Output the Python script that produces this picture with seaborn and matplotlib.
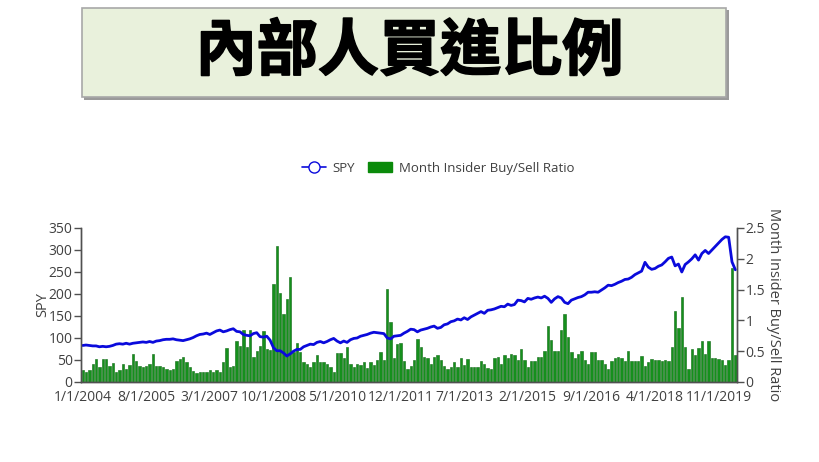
import numpy as np
import pandas as pd
import matplotlib
matplotlib.use('Agg')
import matplotlib.pyplot as plt
import matplotlib.patheffects as pe
from matplotlib.lines import Line2D
from matplotlib.patches import Patch, Rectangle
import seaborn as sns

# --- data ---
title_text = '內部人買進比例'
months = pd.date_range('2004-01-01', periods=196, freq='MS')
month_labels = [f'{d.month}/1/{d.year}' for d in months]
label_step = 19

spy = [
    83, 84, 83, 82, 82, 80, 81, 80, 81, 83, 86, 87,            # 2004
    86, 88, 86, 88, 89, 90, 91, 90, 92, 90, 93, 94,            # 2005
    96, 97, 97, 98, 96, 95, 94, 96, 98, 101, 105, 108,         # 2006
    109, 111, 108, 112, 116, 118, 114, 116, 119, 121, 115, 114,  # 2007
    108, 106, 105, 110, 112, 103, 102, 104, 95, 78, 71, 71,    # 2008
    66, 59, 64, 70, 74, 74, 80, 83, 86, 85, 90, 92,            # 2009
    89, 92, 96, 99, 93, 89, 93, 90, 96, 99, 100, 104,          # 2010
    106, 108, 111, 113, 112, 111, 110, 100, 98, 104, 105, 106,  # 2011
    111, 115, 120, 119, 114, 118, 120, 122, 125, 127, 122, 124,  # 2012
    130, 132, 137, 139, 143, 141, 146, 142, 148, 152, 156, 160,  # 2013
    156, 163, 164, 166, 169, 172, 171, 177, 174, 176, 186, 185,  # 2014
    182, 190, 188, 191, 193, 191, 195, 190, 181, 189, 194, 191,  # 2015
    181, 178, 186, 189, 192, 194, 198, 204, 204, 205, 204, 209,  # 2016
    214, 220, 219, 222, 226, 229, 233, 234, 238, 244, 248, 252,  # 2017
    272, 261, 256, 258, 263, 266, 273, 281, 284, 264, 268, 250,  # 2018
    267, 273, 280, 289, 277, 292, 299, 292, 300, 308, 316, 324,  # 2019
    330, 329, 273, 255,                                        # 2020
]

ratio = [
    0.19, 0.16, 0.20, 0.29, 0.38, 0.25, 0.38, 0.37, 0.26, 0.31, 0.16, 0.20,
    0.30, 0.21, 0.27, 0.46, 0.34, 0.26, 0.24, 0.26, 0.29, 0.46, 0.26, 0.26,
    0.24, 0.21, 0.20, 0.21, 0.34, 0.37, 0.40, 0.32, 0.25, 0.18, 0.14, 0.16,
    0.16, 0.16,
    0.19, 0.16, 0.19, 0.16, 0.33, 0.55, 0.25, 0.26, 0.66, 0.59, 0.84, 0.57,
    0.85, 0.41, 0.50, 0.59, 0.83, 0.53, 0.52, 1.59, 2.20, 1.44, 1.10, 1.34,
    1.71, 0.48, 0.63, 0.49, 0.32, 0.29, 0.24, 0.33, 0.43, 0.33, 0.32, 0.29,
    0.24, 0.16, 0.47, 0.47, 0.39,
    0.57, 0.29, 0.24, 0.30, 0.28, 0.33, 0.22, 0.33, 0.28, 0.36, 0.49, 0.36,
    1.51, 0.97, 0.39, 0.61, 0.63, 0.34, 0.21, 0.26, 0.36, 0.70, 0.57, 0.40,
    0.39, 0.30, 0.41, 0.44, 0.36, 0.26, 0.21, 0.25, 0.33, 0.25, 0.39, 0.28,
    0.37, 0.25, 0.25,
    0.25, 0.34, 0.29, 0.22, 0.21, 0.39, 0.41, 0.29, 0.44, 0.39, 0.45, 0.44,
    0.36, 0.53, 0.36, 0.25, 0.34, 0.34, 0.40, 0.41, 0.51, 0.91, 0.68, 0.51,
    0.51, 0.84, 1.11, 0.73, 0.49, 0.39, 0.46, 0.50, 0.36, 0.30, 0.49, 0.49,
    0.36, 0.36,
    0.30, 0.21, 0.34, 0.39, 0.41, 0.39, 0.34, 0.51, 0.34, 0.34, 0.34, 0.42,
    0.26, 0.32, 0.37, 0.36, 0.36, 0.34, 0.36, 0.34, 0.57, 1.15, 0.87, 1.38,
    0.56, 0.21, 0.53, 0.43, 0.55, 0.66, 0.45, 0.67, 0.39, 0.39, 0.37, 0.36,
    0.28, 0.36, 1.85, 0.43,
]

spy_ticks = [0, 50, 100, 150, 200, 250, 300, 350]
ratio_ticks = [0, 0.5, 1, 1.5, 2, 2.5]
ratio_tick_labels = ['0', '0.5', '1', '1.5', '2', '2.5']

df = pd.DataFrame({'month': month_labels, 'spy': spy, 'ratio': ratio})

sns.set_style('white')
plt.rcParams['font.family'] = ['Open Sans', 'DejaVu Sans']

bar_green = '#15901c'
line_blue = '#0a0adc'
text_grey = '#404040'

fig = plt.figure(figsize=(8.19, 4.62), dpi=100)

# title banner
fig.patches.append(Rectangle((0.103, 0.783), 0.787, 0.196, transform=fig.transFigure,
                             facecolor='#9a9a9a', edgecolor='none', zorder=0))
fig.patches.append(Rectangle((0.100, 0.790), 0.787, 0.193, transform=fig.transFigure,
                             facecolor='#e9f1dc', edgecolor='#a8a8a8', lw=1.2, zorder=1))
fig.text(0.5, 0.887, title_text, ha='center', va='center', fontsize=44,
         fontweight='bold', color='black', family=['Noto Sans CJK TC', 'DejaVu Sans'],
         path_effects=[pe.withStroke(linewidth=1.2, foreground='black')])

ax_bar = fig.add_axes([0.0989, 0.1732, 0.8010, 0.3333])
sns.barplot(data=df, x='month', y='ratio', ax=ax_bar, color=bar_green,
            saturation=1, width=0.7, edgecolor='#0d6812', linewidth=0.4)
ax_bar.set_ylim(0, 2.5)
ax_bar.set_xlim(-0.5, len(df) - 0.5)

ax_line = ax_bar.twinx()
sns.lineplot(x=df.index, y=df['spy'], ax=ax_line, color=line_blue, lw=2, legend=False)
ax_line.set_ylim(0, 350)
ax_line.set_xlim(-0.5, len(df) - 0.5)

# bars' axis on the right, SPY on the left
ax_bar.yaxis.tick_right()
ax_bar.yaxis.set_label_position('right')
ax_line.yaxis.tick_left()
ax_line.yaxis.set_label_position('left')

ax_bar.set_yticks(ratio_ticks)
ax_bar.set_yticklabels(ratio_tick_labels)
ax_line.set_yticks(spy_ticks)

label_pos = list(range(0, len(df), label_step))
ax_bar.set_xticks(label_pos)
ax_bar.set_xticklabels([month_labels[i] for i in label_pos])
ax_bar.set_xticks([p + label_step / 2 for p in label_pos[:-1]], minor=True)
ax_bar.tick_params(axis='x', which='major', length=0, pad=6, labelsize=10, labelcolor=text_grey)
ax_bar.tick_params(axis='x', which='minor', length=5, width=1, color='#505050', direction='out')
ax_bar.tick_params(axis='y', length=5, width=1, color='#505050', direction='out',
                   labelsize=10, labelcolor=text_grey, pad=1, right=True, left=False)
ax_line.tick_params(axis='y', length=5, width=1, color='#505050', direction='out',
                    labelsize=10, labelcolor=text_grey, pad=1, left=True, right=False)

ax_bar.set_xlabel('')
ax_bar.set_ylabel('Month Insider Buy/Sell Ratio', rotation=270, fontsize=10.5,
                  color=text_grey, va='center')
ax_bar.yaxis.set_label_coords(1.056, 0.5)
ax_line.set_ylabel('SPY', fontsize=10.5, color=text_grey)
ax_line.yaxis.set_label_coords(-0.047, 0.5)

for a in (ax_bar, ax_line):
    a.spines['top'].set_visible(False)
    for s in ('left', 'right', 'bottom'):
        a.spines[s].set_color('#505050')
        a.spines[s].set_linewidth(1)
    a.grid(False)

handles = [
    Line2D([0], [0], color=line_blue, lw=1.2, marker='o', markersize=8,
           markerfacecolor='white', markeredgecolor=line_blue),
    Patch(facecolor='#0a8a0a', edgecolor='#0a8a0a'),
]
fig.legend(handles, ['SPY', 'Month Insider Buy/Sell Ratio'], loc='center',
           bbox_to_anchor=(0.535, 0.636), ncol=2, frameon=False, fontsize=9.5,
           handlelength=1.8, columnspacing=1.0, handletextpad=0.5, labelcolor=text_grey)

fig.savefig('out.png', dpi=100)
